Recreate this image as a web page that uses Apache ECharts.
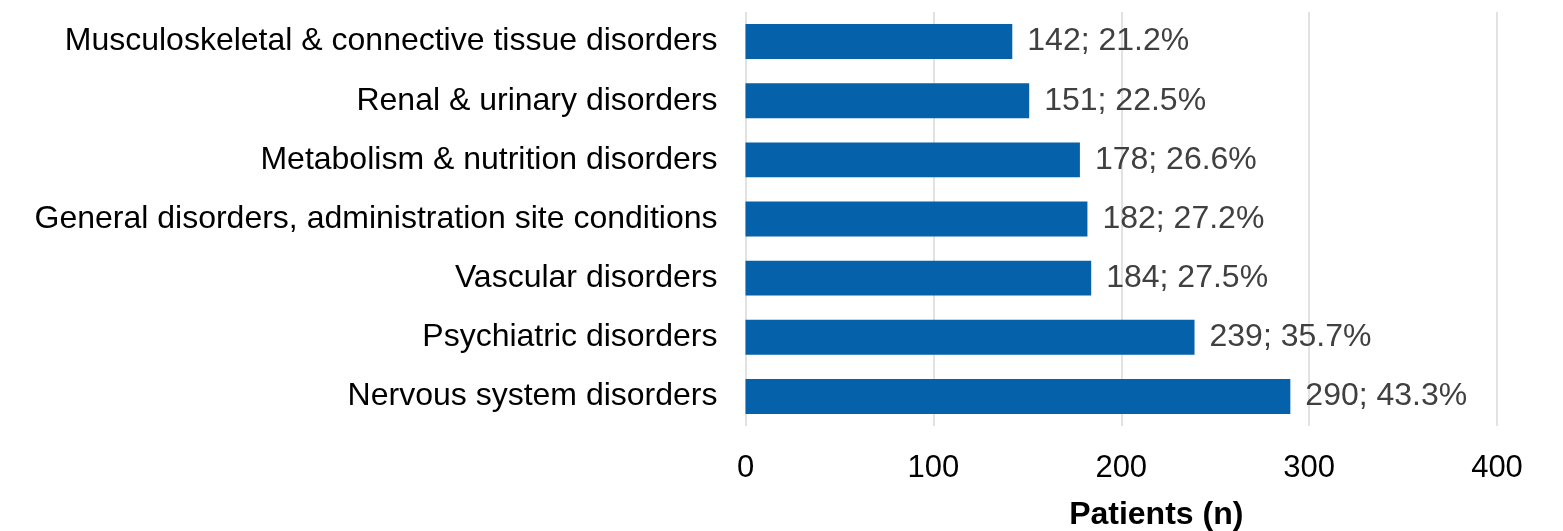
<!DOCTYPE html>
<html>
<head>
<meta charset="utf-8">
<title>Adverse events by system organ class</title>
<script src="https://cdn.jsdelivr.net/npm/echarts@6/dist/echarts.min.js"></script>
<style>
  html, body { margin: 0; padding: 0; background: #ffffff; }
  #chart { width: 1563px; height: 531px; }
</style>
</head>
<body>
<div id="chart"></div>
<script>
// System organ classes, listed from the bottom bar to the top bar
var categories = [
  'Nervous system disorders',
  'Psychiatric disorders',
  'Vascular disorders',
  'General disorders, administration site conditions',
  'Metabolism & nutrition disorders',
  'Renal & urinary disorders',
  'Musculoskeletal & connective tissue disorders'
];
// Number of patients per class
var patients = [290, 239, 184, 182, 178, 151, 142];
// Share of patients per class (%)
var percents = [43.3, 35.7, 27.5, 27.2, 26.6, 22.5, 21.2];
// Value axis ticks
var xTicks = [0, 100, 200, 300, 400];

var FONT = '"Liberation Sans", Arial, Helvetica, sans-serif';

var chart = echarts.init(document.getElementById('chart'), null, { renderer: 'canvas' });

chart.setOption({
  animation: false,
  backgroundColor: '#ffffff',
  textStyle: { fontFamily: FONT },
  grid: {
    left: 745.5,
    right: 66,
    top: 12,
    bottom: 105,
    containLabel: false,
    outerBoundsMode: 'none'
  },
  xAxis: {
    type: 'value',
    min: xTicks[0],
    max: xTicks[xTicks.length - 1],
    interval: xTicks[1] - xTicks[0],
    axisLine: { show: false },
    axisTick: { show: false },
    axisLabel: {
      color: '#000000',
      fontSize: 31,
      fontFamily: FONT,
      margin: 27
    },
    splitLine: {
      show: true,
      lineStyle: { color: '#d9d9d9', width: 1.5 }
    },
    name: 'Patients (n)',
    nameLocation: 'middle',
    nameGap: 73,
    nameTextStyle: {
      color: '#000000',
      fontSize: 32,
      fontWeight: 'bold',
      fontFamily: FONT,
      padding: [0, 0, 0, 70]
    }
  },
  yAxis: {
    type: 'category',
    data: categories,
    axisLine: { show: false },
    axisTick: { show: false },
    axisLabel: {
      color: '#000000',
      fontSize: 32,
      fontFamily: FONT,
      margin: 28
    },
    splitLine: { show: false }
  },
  series: [{
    type: 'bar',
    data: patients,
    barCategoryGap: '41%',
    itemStyle: { color: '#0561aa' },
    label: {
      show: true,
      position: 'right',
      distance: 15,
      color: '#404040',
      fontSize: 32,
      fontFamily: FONT,
      formatter: function (p) {
        return p.value + '; ' + percents[p.dataIndex].toFixed(1) + '%';
      }
    }
  }]
});
</script>
</body>
</html>
